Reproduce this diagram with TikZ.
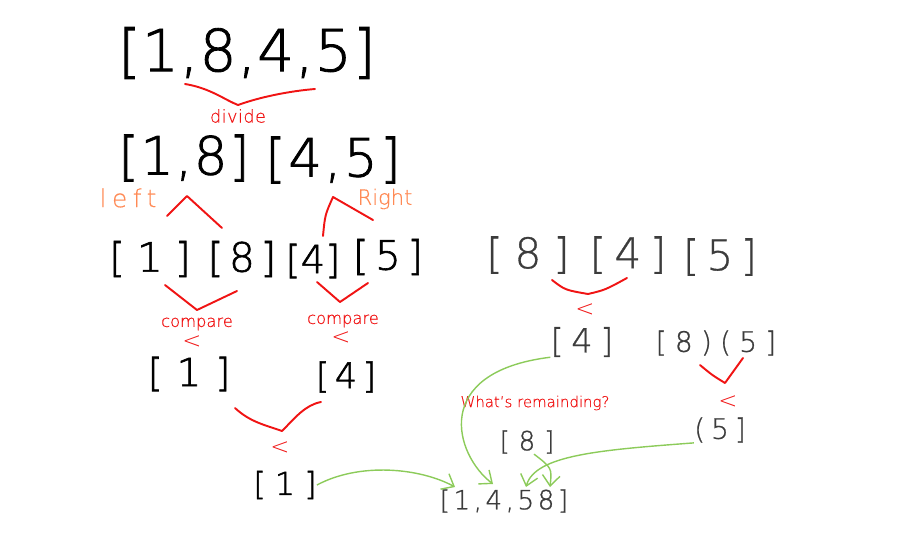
\documentclass[tikz,border=0pt]{standalone}
\usepackage{fontspec}
\setmainfont{DejaVu Sans ExtraLight}
\usetikzlibrary{arrows.meta}

\definecolor{penred}{HTML}{F01414}
\definecolor{penorange}{HTML}{FF8A55}
\definecolor{pengreen}{HTML}{8CCB5A}
\definecolor{pengray}{HTML}{3C3C3C}

% [boldness] size, letter spacing
\newcommand\pen[3][0]{\fontsize{#2}{#2}\selectfont\addfontfeature{LetterSpace=#3,FakeBold=#1}}

\tikzset{
	nums/.style={inner sep=0pt, text=black},
	grnums/.style={inner sep=0pt, text=pengray},
	note/.style={inner sep=0pt, text=penred},
	side/.style={inner sep=0pt, text=penorange},
	redline/.style={penred, line width=1.1pt, line cap=round, line join=round},
	greenarrow/.style={pengreen, line width=0.8pt, -{Straight Barb[length=6pt,width=10pt]}}
}

\begin{document}
\begin{tikzpicture}[x=0.02cm, y=-0.02cm]
	\useasboundingbox (0,0) rectangle (910,541);

%whole list
	\node[nums] (all) at (247,53) {\pen[1.5]{33}{2}[1,8,4,5]};
	\draw[redline] (185,84) .. controls (210,88) and (225,100) .. (238,105) .. controls (260,97) and (290,91) .. (315,89);
	\node[note] (divide) at (238,116) {\pen[0.5]{10}{3}divide};

%halves
	\node[nums] (half1) at (184,158) {\pen[1.5]{30}{3}[1,8]};
	\node[nums] (half2) at (333,160) {\pen[1.5]{30}{5}[4,5]};
	\node[side] (lefttxt) at (128,198) {\pen[0.5]{14}{23}left};
	\node[side] (righttxt) at (385,199) {\pen[0.5]{12}{0}Right};
	\draw[redline] (167,216) -- (187,196) -- (222,228);
	\draw[redline] (323,236) .. controls (325,215) .. (333,197) -- (373,220);

%singles
	\node[nums] (one) at (150,259) {\pen[1.5]{23}{30}[1]};
	\node[nums] (eight) at (242,259) {\pen[1.5]{23}{14}[8]};
	\node[nums] (four) at (313,261) {\pen[1.5]{22}{0}[4]};
	\node[nums] (five) at (388,257) {\pen[1.5]{23}{16}[5]};

	\foreach \a/\b/\c in {{(165,285)}/{(197,310)}/{(237,291)}, {(317,282)}/{(340,302)}/{(368,283)}}{
		\draw[redline] \a -- \b -- \c;
	}
	\node[note] (cmp1) at (197,324) {\pen[0.5]{9.3}{0}compare};
	\node[note] (cmp2) at (343,321) {\pen[0.5]{9.3}{0}compare};
	\node[note] (lt1) at (192,342) {\pen{13}{0}<};
	\node[note] (lt2) at (341,338) {\pen{13}{0}<};

%compared
	\node[nums] (win1) at (189,374) {\pen[1.5]{22}{36}[1]};
	\node[nums] (win4) at (346,377) {\pen[1.5]{20}{15}[4]};
	\draw[redline] (235,408) .. controls (250,422) and (265,425) .. (282,431) .. controls (295,418) and (305,405) .. (321,402);
	\node[note] (lt3) at (280,448) {\pen{13}{0}<};
	\node[nums] (res1) at (285,485) {\pen[1.5]{18}{29}[1]};

%right side
	\node[grnums] (r8) at (528,255) {\pen[0.8]{24}{28}[8]};
	\node[grnums] (r4) at (628,255) {\pen[0.8]{24}{20}[4]};
	\node[grnums] (r5) at (720,257) {\pen[0.8]{24}{17}[5]};
	\draw[redline] (552,280) .. controls (565,290) .. (588,294) .. controls (605,290) .. (627,278);
	\node[note] (lt4) at (585,310) {\pen{13}{0}<};

	\node[grnums] (res4) at (582,342) {\pen[0.8]{19}{23}[4]};
	\node[grnums] (rest) at (716,343) {\pen[0.8]{16}{29}[8)(5]};
	\draw[redline] (700,365) .. controls (712,375) .. (725,383) -- (743,358);
	\node[note] (lt5) at (728,402) {\pen{13}{0}<};
	\node[note] (remain) at (535,403) {\pen[0.5]{8.5}{0}What's remainding?};

	\node[grnums] (res5) at (720,430) {\pen[0.8]{16}{21}(5]};
	\node[grnums] (res8) at (527,442) {\pen[0.8]{15}{33}[8]};
	\node[grnums] (final) at (504,501) {\pen[0.8]{15}{13}[1,4,58]};

%merge arrows
	\coordinate (in1) at (455,487);
	\coordinate (in4) at (493,484);
	\coordinate (in5) at (526,487);
	\coordinate (in8) at (550,487);
	\draw[greenarrow] (res1.east) .. controls (360,462) and (420,468) .. (in1);
	\draw[greenarrow] (res4.south west) .. controls (430,372) and (455,455) .. (in4);
	\draw[greenarrow] (res8.-60) .. controls (552,468) .. (in8);
	\draw[greenarrow] (res5.south west) .. controls (600,450) and (535,455) .. (in5);

\end{tikzpicture}
\end{document}
